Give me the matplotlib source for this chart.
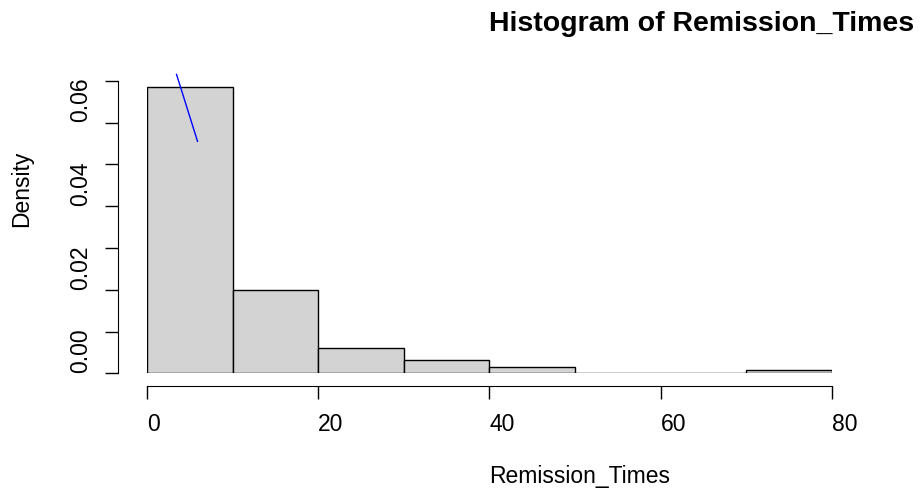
import numpy as np
import matplotlib.pyplot as plt
import matplotlib.transforms as mtransforms

plt.rcParams['font.family'] = ['Liberation Sans', 'DejaVu Sans']

# histogram of remission times (density, bins of width 10)
bin_edges = [0, 10, 20, 30, 40, 50, 60, 70, 80]
density = [0.0684, 0.0200, 0.0061, 0.0033, 0.0016, 0.0, 0.0, 0.0008]

# fragment of the density curve visible in the plot
curve_x = [3.45, 5.9]
curve_y = [0.0715, 0.0555]

x_ticks = [0, 20, 40, 60, 80]
x_ticklabels = ['0', '20', '40', '60', '80']
y_ticks = [0.00, 0.01, 0.02, 0.03, 0.04, 0.05, 0.06, 0.07]
y_ticklabels = ['0.00', '', '0.02', '', '0.04', '', '0.06', '']

W, H = 923, 493
fig = plt.figure(figsize=(W / 100, H / 100), dpi=100)
ax = fig.add_axes([147 / W, 119.7 / H, 685 / W, 292.6 / H])

edges = np.array(bin_edges)
ax.bar(edges[:-1], density, width=np.diff(edges), align='edge',
       facecolor='#D3D3D3', edgecolor='black', linewidth=1.0)

ax.plot(curve_x, curve_y, color='blue', linewidth=1.0, clip_on=False)

ax.set_xlim(0, 80)
ax.set_ylim(0, 0.07)

# R-like detached axes
for side in ['top', 'right']:
    ax.spines[side].set_visible(False)
ax.spines['bottom'].set_position(('outward', 9.2))
ax.spines['left'].set_position(('outward', 21))
ax.spines['bottom'].set_bounds(0, 80)
ax.spines['left'].set_bounds(0, 0.07)

ax.set_xticks(x_ticks)
ax.set_xticklabels(x_ticklabels)
ax.set_yticks(y_ticks)
ax.set_yticklabels(y_ticklabels)
ax.tick_params(axis='both', direction='out', length=9.4, width=1.0,
               labelsize=16.5, colors='black')
ax.tick_params(axis='x', pad=10)
ax.tick_params(axis='y', pad=9.4)

for lab in ax.get_xticklabels():
    lab.set_horizontalalignment('left')
for lab in ax.get_yticklabels():
    lab.set_rotation(90)
    lab.set_verticalalignment('bottom')

# title and axis labels (start at the centre of the plot)
tx = mtransforms.blended_transform_factory(ax.transData, fig.transFigure)
ty = mtransforms.blended_transform_factory(fig.transFigure, ax.transData)
fig.text(40, 1 - 24 / H, 'Histogram of Remission_Times', transform=tx,
         ha='left', va='center', fontsize=20.5, fontweight='bold')
fig.text(40, 1 - 476 / H, 'Remission_Times', transform=tx,
         ha='left', va='center', fontsize=16.5)
fig.text(22 / W, 0.035, 'Density', transform=ty, rotation=90,
         ha='center', va='bottom', fontsize=16.5)

fig.savefig('out.png', dpi=100)
